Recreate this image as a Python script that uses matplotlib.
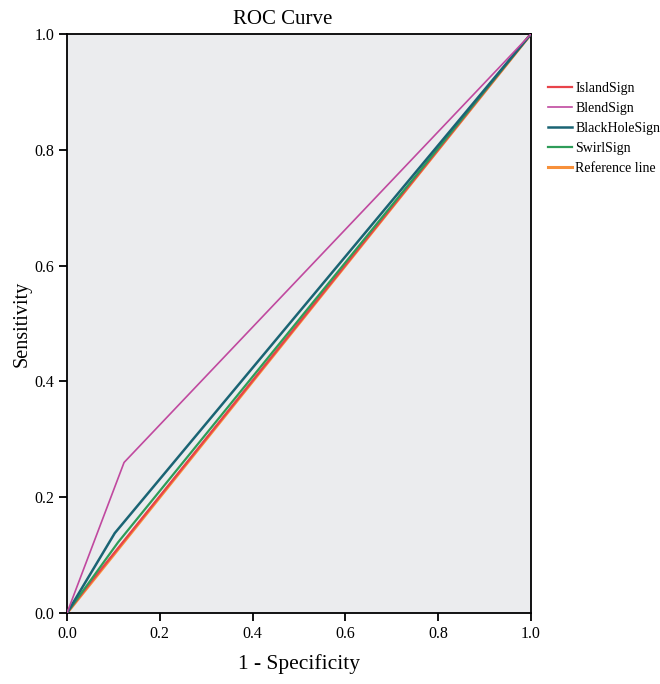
import matplotlib
matplotlib.use("Agg")
import matplotlib.pyplot as plt

# ROC points (1 - specificity, sensitivity)
island_x = [0.0, 0.05, 1.0]
island_y = [0.0, 0.052, 1.0]
blend_x = [0.0, 0.123, 1.0]
blend_y = [0.0, 0.26, 1.0]
blackhole_x = [0.0, 0.103, 1.0]
blackhole_y = [0.0, 0.138, 1.0]
swirl_x = [0.0, 0.11, 1.0]
swirl_y = [0.0, 0.122, 1.0]
ref_x = [0.0, 1.0]
ref_y = [0.0, 1.0]
ticks = [0.0, 0.2, 0.4, 0.6, 0.8, 1.0]

plt.rcParams["font.family"] = ["Liberation Serif", "DejaVu Serif"]

fig = plt.figure(figsize=(6.6, 6.84), dpi=100)
ax = fig.add_axes([0.1015, 0.1038, 0.703, 0.8465])
ax.set_facecolor("#EBECEE")

ax.plot(ref_x, ref_y, color="#F7903A", lw=2.2, label="Reference line", zorder=2)
ax.plot(island_x, island_y, color="#E8434A", lw=1.6, label="IslandSign", zorder=3)
ax.plot(swirl_x, swirl_y, color="#2E9C59", lw=1.6, label="SwirlSign", zorder=4)
ax.plot(blackhole_x, blackhole_y, color="#1A6474", lw=1.8, label="BlackHoleSign", zorder=5)
ax.plot(blend_x, blend_y, color="#C0499F", lw=1.2, label="BlendSign", zorder=6)

ax.set_xlim(0, 1)
ax.set_ylim(0, 1)
ax.set_xticks(ticks)
ax.set_yticks(ticks)
ax.set_xticklabels([f"{t:.1f}" for t in ticks])
ax.set_yticklabels([f"{t:.1f}" for t in ticks])
ax.tick_params(direction="out", length=6, width=1.3, labelsize=11.5, pad=3)
for s in ax.spines.values():
    s.set_linewidth(1.3)

# title sits a bit left of the axes centre in the original
fig.text(0.429, 0.971, "ROC Curve", fontsize=15, ha="center", va="center")
ax.set_xlabel("1 - Specificity", fontsize=15.5, labelpad=9)
ax.set_ylabel("Sensitivity", fontsize=14.5, labelpad=2)

handles, labels = ax.get_legend_handles_labels()
order = ["IslandSign", "BlendSign", "BlackHoleSign", "SwirlSign", "Reference line"]
hmap = dict(zip(labels, handles))
ax.legend([hmap[k] for k in order], order, loc="upper left",
          bbox_to_anchor=(1.037, 0.917), frameon=False, fontsize=10,
          handlelength=1.75, handletextpad=0.2, labelspacing=0.5,
          borderaxespad=0, borderpad=0)

fig.savefig("out.png", dpi=100)
